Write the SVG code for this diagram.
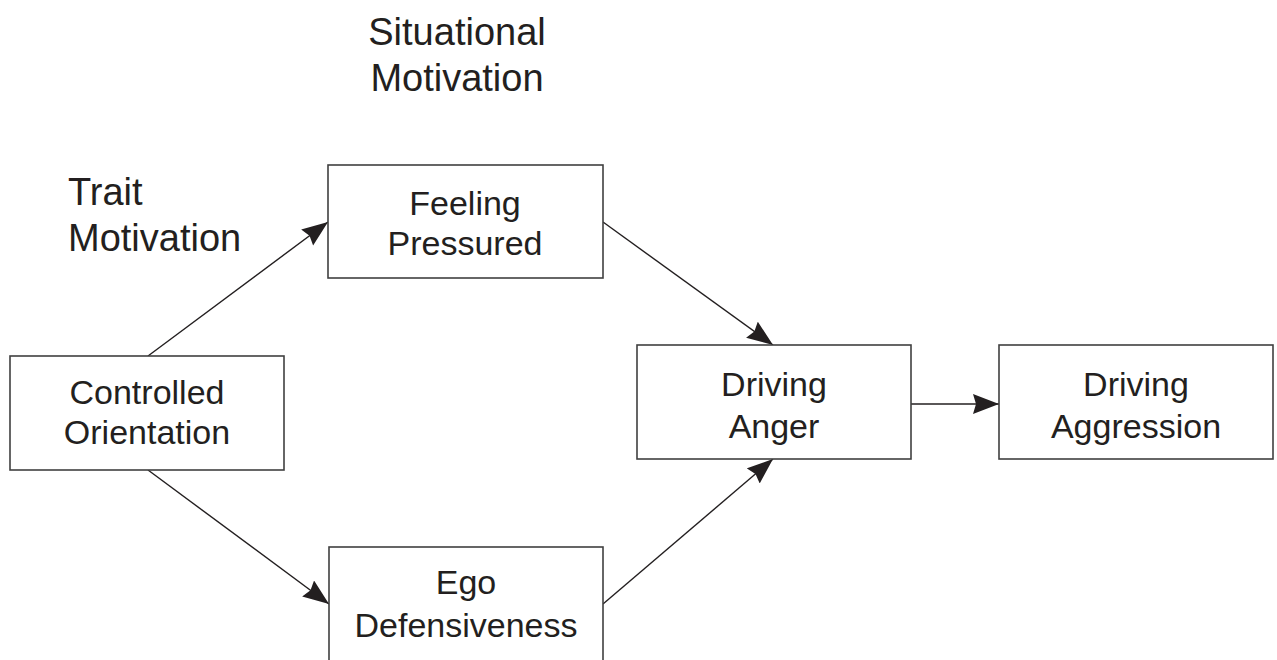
<svg xmlns="http://www.w3.org/2000/svg" width="1277" height="660" viewBox="0 0 1277 660">
<style>
.box{fill:#fff;stroke:#404040;stroke-width:1.6}
.t{font-family:"Liberation Sans",Arial,sans-serif;font-size:34px;fill:#231f20;text-anchor:middle}
.lbl{font-family:"Liberation Sans",Arial,sans-serif;font-size:38px;fill:#231f20}
.c{stroke:#231f20;stroke-width:1.4;fill:none;marker-end:url(#ah)}
</style>
<defs>
<marker id="ah" markerUnits="userSpaceOnUse" markerWidth="28" markerHeight="22" refX="26" refY="10" orient="auto">
<path d="M0,0 L26,10 L0,20 L3,10 Z" fill="#231f20"/>
</marker>
</defs>
<rect width="1277" height="660" fill="#fff"/>
<g id="labels">
<text class="lbl" x="457" y="45" text-anchor="middle">Situational</text>
<text class="lbl" x="457" y="91" text-anchor="middle">Motivation</text>
<text class="lbl" x="68" y="205">Trait</text>
<text class="lbl" x="68" y="251">Motivation</text>
</g>
<g id="connectors">
<line class="c" x1="148" y1="356" x2="328" y2="222"/>
<line class="c" x1="148" y1="470" x2="329" y2="604"/>
<line class="c" x1="603" y1="222" x2="773" y2="345"/>
<line class="c" x1="603" y1="604" x2="773" y2="459"/>
<line class="c" x1="911" y1="404" x2="999" y2="404"/>
</g>
<g id="controlled">
<rect class="box" x="10" y="356" width="274" height="114"/>
<text class="t" x="147" y="404">Controlled</text>
<text class="t" x="147" y="444">Orientation</text>
</g>
<g id="feeling">
<rect class="box" x="328" y="165" width="275" height="113"/>
<text class="t" x="465" y="215">Feeling</text>
<text class="t" x="465" y="255">Pressured</text>
</g>
<g id="ego">
<rect class="box" x="329" y="547" width="274" height="130"/>
<text class="t" x="466" y="594">Ego</text>
<text class="t" x="466" y="637">Defensiveness</text>
</g>
<g id="anger">
<rect class="box" x="637" y="345" width="274" height="114"/>
<text class="t" x="774" y="396">Driving</text>
<text class="t" x="774" y="438">Anger</text>
</g>
<g id="aggression">
<rect class="box" x="999" y="345" width="274" height="114"/>
<text class="t" x="1136" y="396">Driving</text>
<text class="t" x="1136" y="438">Aggression</text>
</g>
</svg>
